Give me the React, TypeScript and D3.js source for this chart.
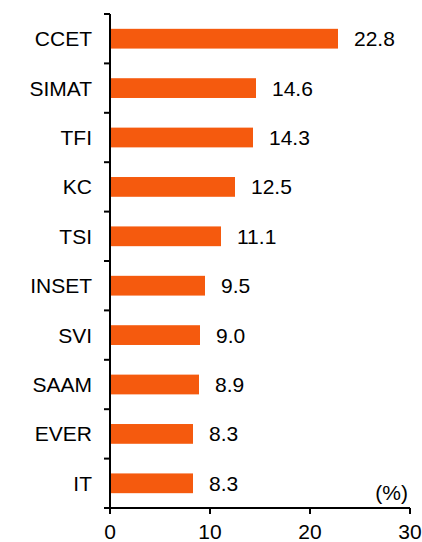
import React, { useEffect, useRef } from "react";
import * as d3 from "d3";

const categories = ["CCET", "SIMAT", "TFI", "KC", "TSI", "INSET", "SVI", "SAAM", "EVER", "IT"];
const values = [22.8, 14.6, 14.3, 12.5, 11.1, 9.5, 9.0, 8.9, 8.3, 8.3];
const xTicks = [0, 10, 20, 30];

const W = 422;
const H = 542;
const margin = { top: 14, right: 12, bottom: 34, left: 110 };

export default function App() {
  const svgRef = useRef<SVGSVGElement>(null);

  useEffect(() => {
    const svg = d3.select(svgRef.current);
    svg.selectAll("*").remove();
    const innerW = W - margin.left - margin.right;
    const innerH = H - margin.top - margin.bottom;
    const font = "Liberation Sans, Arial, sans-serif";
    const fs = 21;

    const x = d3.scaleLinear().domain([0, 30]).range([0, innerW]);
    const y = d3.scaleBand().domain(categories).range([0, innerH]).paddingInner(0.6).paddingOuter(0.3);

    const g = svg.append("g").attr("transform", `translate(${margin.left},${margin.top})`);

    // bars
    g.selectAll(".bar")
      .data(values)
      .join("rect")
      .attr("class", "bar")
      .attr("x", 0)
      .attr("y", (d, i) => y(categories[i])!)
      .attr("width", (d) => x(d))
      .attr("height", y.bandwidth())
      .attr("fill", "#F55A0E");

    // value labels
    g.selectAll(".val")
      .data(values)
      .join("text")
      .attr("class", "val")
      .attr("x", (d) => x(d) + 16)
      .attr("y", (d, i) => y(categories[i])! + y.bandwidth() / 2)
      .attr("dy", "0.36em")
      .attr("font-family", font)
      .attr("font-size", fs)
      .attr("fill", "#000")
      .text((d) => d.toFixed(1));

    // y axis: line with tick marks between categories
    const step = innerH / categories.length;
    const yAxis = g.append("g");
    yAxis.append("line").attr("x1", 0).attr("x2", 0).attr("y1", 0).attr("y2", innerH)
      .attr("stroke", "#000").attr("stroke-width", 2);
    yAxis.selectAll(".ytick")
      .data(d3.range(categories.length + 1))
      .join("line")
      .attr("x1", -6).attr("x2", 0)
      .attr("y1", (i) => i * step).attr("y2", (i) => i * step)
      .attr("stroke", "#000").attr("stroke-width", 2);
    yAxis.selectAll(".ylab")
      .data(categories)
      .join("text")
      .attr("x", -18)
      .attr("y", (d) => y(d)! + y.bandwidth() / 2)
      .attr("dy", "0.36em")
      .attr("text-anchor", "end")
      .attr("font-family", font)
      .attr("font-size", fs)
      .text((d) => d);

    // x axis
    const xAxis = g.append("g").attr("transform", `translate(0,${innerH})`);
    xAxis.append("line").attr("x1", 0).attr("x2", innerW).attr("stroke", "#000").attr("stroke-width", 2);
    xAxis.selectAll(".xtick")
      .data(xTicks)
      .join("line")
      .attr("x1", (d) => x(d)).attr("x2", (d) => x(d))
      .attr("y1", 0).attr("y2", 6)
      .attr("stroke", "#000").attr("stroke-width", 2);
    xAxis.selectAll(".xlab")
      .data(xTicks)
      .join("text")
      .attr("x", (d) => x(d))
      .attr("y", 31)
      .attr("text-anchor", "middle")
      .attr("font-family", font)
      .attr("font-size", fs)
      .text((d) => d);

    g.append("text")
      .attr("x", innerW - 2)
      .attr("y", innerH - 8)
      .attr("text-anchor", "end")
      .attr("font-family", font)
      .attr("font-size", fs)
      .text("(%)");
  }, []);

  return (
    <svg
      ref={svgRef}
      width={W}
      height={H}
      style={{ position: "absolute", left: 0, top: 0, background: "#fff" }}
    />
  );
}
